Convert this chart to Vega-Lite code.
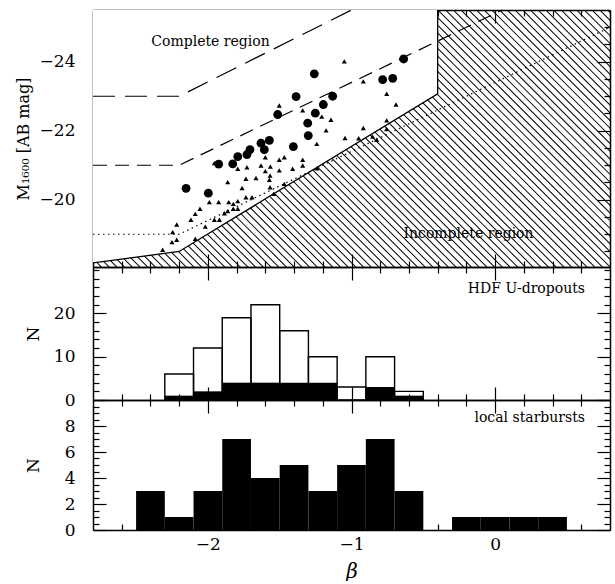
{
"$schema":"https://vega.github.io/schema/vega-lite/v6.json",
"padding":{"left":15,"top":7,"right":1,"bottom":0},
"spacing":0,
"bounds":"flush",
"config":{"view":{"stroke":null},"font":"DejaVu Serif",
 "axis":{"grid":false,"domain":true,"domainColor":"black","domainWidth":1.5,"tickColor":"black","tickWidth":1.2,"labelColor":"black","labelFont":"DejaVu Serif","labelFontSize":17,"titleFont":"DejaVu Serif","titleColor":"black","titleFontWeight":"normal","titleFontSize":17,"zindex":1,"labelFlush":false,"labelOverlap":false,"labelBound":false,"format":"d"}},
"datasets":{
 "hatch":[{"beta":-2.8,"M":-18.05,"i":0},{"beta":-0.105,"M":-29.27,"i":1}],
 "complete":[{"beta":-2.8,"M":-18.17,"i":0},{"beta":-2.2,"M":-18.5,"i":1},{"beta":-0.4,"M":-23.07,"i":2}],
 "boundary":[{"beta":-2.8,"M":-18.17,"i":0},{"beta":-2.2,"M":-18.5,"i":1},{"beta":-0.4,"M":-23.07,"i":2},{"beta":-0.4,"M":-25.5,"i":3}],
 "lines":[{"style":"long","beta":-2.8,"M":-23,"i":0},{"style":"long","beta":-2.2,"M":-23,"i":1},{"style":"long","beta":-1.0,"M":-25.5,"i":2},
  {"style":"short","beta":-2.8,"M":-21,"i":0},{"style":"short","beta":-2.2,"M":-21,"i":1},{"style":"short","beta":0.05,"M":-25.5,"i":2},
  {"style":"dot","beta":-2.8,"M":-19,"i":0},{"style":"dot","beta":-2.2,"M":-19,"i":1},{"style":"dot","beta":0.8,"M":-25.0,"i":2}],
 "circles":[{"beta":-2.152,"M":-20.33},{"beta":-1.997,"M":-20.19},{"beta":-1.925,"M":-21.03},{"beta":-1.827,"M":-21.04},{"beta":-1.792,"M":-21.25},{"beta":-1.728,"M":-21.31},{"beta":-1.707,"M":-21.45},{"beta":-1.63,"M":-21.64},{"beta":-1.607,"M":-21.45},{"beta":-1.572,"M":-21.72},{"beta":-1.514,"M":-22.47},{"beta":-1.405,"M":-21.54},{"beta":-1.386,"M":-22.99},{"beta":-1.305,"M":-22.22},{"beta":-1.301,"M":-21.86},{"beta":-1.259,"M":-23.65},{"beta":-1.252,"M":-22.51},{"beta":-1.196,"M":-22.76},{"beta":-1.131,"M":-23.0},{"beta":-0.783,"M":-23.48},{"beta":-0.713,"M":-23.52},{"beta":-0.637,"M":-24.08}],
 "tri":[{"beta":-1.503,"M":-22.73},{"beta":-1.34,"M":-22.59},{"beta":-1.207,"M":-22.41},{"beta":-1.143,"M":-22.32},{"beta":-1.177,"M":-22.01},{"beta":-1.242,"M":-21.62},{"beta":-1.045,"M":-21.79},
  {"beta":-1.792,"M":-20.9},{"beta":-1.728,"M":-20.94},{"beta":-1.63,"M":-20.99},{"beta":-1.6,"M":-21.23},{"beta":-1.565,"M":-20.96},{"beta":-1.6,"M":-20.83},{"beta":-1.503,"M":-21.16},{"beta":-1.468,"M":-21.23},{"beta":-1.34,"M":-21.16},{"beta":-1.34,"M":-20.99},{"beta":-1.41,"M":-20.9},{"beta":-1.503,"M":-20.85},
  {"beta":-1.665,"M":-20.63},{"beta":-1.567,"M":-20.7},{"beta":-1.572,"M":-20.58},{"beta":-1.735,"M":-20.61},{"beta":-1.862,"M":-20.51},{"beta":-1.762,"M":-20.34},{"beta":-1.567,"M":-20.36},{"beta":-1.468,"M":-20.46},
  {"beta":-1.99,"M":-19.93},{"beta":-1.925,"M":-19.93},{"beta":-1.855,"M":-19.93},{"beta":-1.823,"M":-19.88},{"beta":-1.792,"M":-19.96},{"beta":-1.735,"M":-20.07},{"beta":-1.693,"M":-20.07},
  {"beta":-1.792,"M":-19.74},{"beta":-1.823,"M":-19.74},{"beta":-1.862,"M":-19.67},{"beta":-1.885,"M":-19.61},{"beta":-1.92,"M":-19.42},{"beta":-1.955,"M":-19.42},{"beta":-2.055,"M":-19.74},{"beta":-2.088,"M":-19.59},{"beta":-2.118,"M":-19.42},{"beta":-2.018,"M":-19.22},{"beta":-2.217,"M":-19.28},{"beta":-2.245,"M":-19.06},{"beta":-2.25,"M":-18.77},{"beta":-2.217,"M":-18.84},{"beta":-2.088,"M":-18.87},{"beta":-2.315,"M":-18.55},
  {"beta":-1.542,"M":-20.17},{"beta":-1.955,"M":-21.06},{"beta":-1.24,"M":-20.91},
  {"beta":-1.05,"M":-24.01},{"beta":-0.918,"M":-23.43},{"beta":-0.755,"M":-23.07},{"beta":-0.69,"M":-22.76},{"beta":-0.755,"M":-22.3},{"beta":-0.918,"M":-22.08},{"beta":-0.95,"M":-21.78},{"beta":-0.853,"M":-21.83},{"beta":-0.825,"M":-21.74},{"beta":-0.755,"M":-22.05}],
 "toptext":[{"t":"Complete region","beta":-1.982,"M":-24.56},{"t":"Incomplete region","beta":-0.185,"M":-19.01}],
 "hdf":[{"lo":-2.3,"hi":-2.1,"n":6,"f":1},{"lo":-2.1,"hi":-1.9,"n":12,"f":2},{"lo":-1.9,"hi":-1.7,"n":19,"f":4},{"lo":-1.7,"hi":-1.5,"n":22,"f":4},{"lo":-1.5,"hi":-1.3,"n":16,"f":4},{"lo":-1.3,"hi":-1.1,"n":10,"f":4},{"lo":-1.1,"hi":-0.9,"n":3,"f":0},{"lo":-0.9,"hi":-0.7,"n":10,"f":3},{"lo":-0.7,"hi":-0.5,"n":2,"f":1}],
 "midtext":[{"t":"HDF U-dropouts","beta":0.626,"n":25.7}],
 "local":[{"lo":-2.5,"hi":-2.3,"n":3},{"lo":-2.3,"hi":-2.1,"n":1},{"lo":-2.1,"hi":-1.9,"n":3},{"lo":-1.9,"hi":-1.7,"n":7},{"lo":-1.7,"hi":-1.5,"n":4},{"lo":-1.5,"hi":-1.3,"n":5},{"lo":-1.3,"hi":-1.1,"n":3},{"lo":-1.1,"hi":-0.9,"n":5},{"lo":-0.9,"hi":-0.7,"n":7},{"lo":-0.7,"hi":-0.5,"n":3},{"lo":-0.3,"hi":-0.1,"n":1},{"lo":-0.1,"hi":0.1,"n":1},{"lo":0.1,"hi":0.3,"n":1},{"lo":0.3,"hi":0.5,"n":1}],
 "bottext":[{"t":"local starbursts","beta":0.626,"n":8.58}]
},
"vconcat":[
{
 "width":517,"height":257,
 "resolve":{"axis":{"x":"independent","y":"independent"}},
 "layer":[
  {"data":{"name":"hatch"},
   "mark":{"type":"line","color":"black","strokeWidth":800,"strokeDash":[1.0,4.45],"strokeCap":"butt","clip":true},
   "encoding":{
    "x":{"field":"beta","type":"quantitative","scale":{"domain":[-2.8,0.8],"nice":false,"zero":false},"axis":null},
    "y":{"field":"M","type":"quantitative","scale":{"domain":[-18.05,-25.5],"nice":false,"zero":false},"axis":null},
    "order":{"field":"i","type":"quantitative"}
   }},
  {"data":{"name":"complete"},
   "mark":{"type":"area","fill":"white","fillOpacity":1,"opacity":1,"stroke":null},
   "encoding":{
    "x":{"field":"beta","type":"quantitative",
     "axis":{"orient":"bottom","values":[-2.6,-2.4,-2.2,-2,-1.8,-1.6,-1.4,-1.2,-1,-0.8,-0.6,-0.4,-0.2,0,0.2,0.4,0.6],"labels":false,"title":null,
      "tickSize":{"condition":{"test":"abs(datum.value-round(datum.value))<0.01","value":-13},"value":-6}}},
    "y":{"field":"M","type":"quantitative","stack":null,
     "axis":{"orient":"left","values":[-25,-24.5,-24,-23.5,-23,-22.5,-22,-21.5,-21,-20.5,-20,-19.5,-19,-18.5],
      "tickSize":{"condition":{"test":"abs(datum.value/2-round(datum.value/2))<0.01","value":-13},"value":-6},
      "labelExpr":"abs(datum.value/2-round(datum.value/2))<0.01 ? datum.label : ''","labelPadding":31,
      "title":"M₁₆₀₀ [AB mag]","titlePadding":8,"titleFontSize":16}},
    "y2":{"datum":-25.5}
   }},
  {"data":{"name":"boundary"},
   "mark":{"type":"line","color":"black","strokeWidth":1.3},
   "encoding":{
    "x":{"field":"beta","type":"quantitative","axis":null},
    "y":{"field":"M","type":"quantitative","axis":null},
    "order":{"field":"i","type":"quantitative"}
   }},
  {"data":{"name":"lines"},
   "mark":{"type":"line","color":"black","strokeWidth":1.2},
   "encoding":{
    "x":{"field":"beta","type":"quantitative",
     "axis":{"orient":"top","values":[-2.6,-2.4,-2.2,-2,-1.8,-1.6,-1.4,-1.2,-1,-0.8,-0.6,-0.4,-0.2,0,0.2,0.4,0.6],"labels":false,"title":null,
      "tickSize":{"condition":{"test":"abs(datum.value-round(datum.value))<0.01","value":-13},"value":-6}}},
    "y":{"field":"M","type":"quantitative",
     "axis":{"orient":"right","values":[-25,-24.5,-24,-23.5,-23,-22.5,-22,-21.5,-21,-20.5,-20,-19.5,-19,-18.5],"labels":false,"title":null,
      "tickSize":{"condition":{"test":"abs(datum.value/2-round(datum.value/2))<0.01","value":-13},"value":-6}}},
    "detail":{"field":"style"},
    "strokeDash":{"field":"style","type":"nominal","scale":{"domain":["long","short","dot"],"range":[[22,10],[14,8],[1.5,3.5]]},"legend":null},
    "order":{"field":"i","type":"quantitative"}
   }},
  {"data":{"name":"tri"},
   "mark":{"type":"point","shape":"triangle-up","filled":true,"color":"black","opacity":1,"size":26},
   "encoding":{"x":{"field":"beta","type":"quantitative","axis":null},"y":{"field":"M","type":"quantitative","axis":null}}},
  {"data":{"name":"circles"},
   "mark":{"type":"point","shape":"circle","filled":true,"color":"black","opacity":1,"size":78},
   "encoding":{"x":{"field":"beta","type":"quantitative","axis":null},"y":{"field":"M","type":"quantitative","axis":null}}},
  {"data":{"name":"toptext"},
   "mark":{"type":"text","font":"DejaVu Serif","fontSize":14,"color":"black","align":"center","baseline":"middle"},
   "encoding":{"x":{"field":"beta","type":"quantitative","axis":null},"y":{"field":"M","type":"quantitative","axis":null},"text":{"field":"t"}}}
 ]
},
{
 "width":517,"height":133,
 "resolve":{"axis":{"x":"independent","y":"independent"}},
 "layer":[
  {"data":{"name":"hdf"},
   "mark":{"type":"rect","filled":false,"stroke":"black","strokeWidth":1.4},
   "encoding":{
    "x":{"field":"lo","type":"quantitative","scale":{"domain":[-2.8,0.8],"nice":false,"zero":false},
     "axis":{"orient":"bottom","values":[-2.6,-2.4,-2.2,-2,-1.8,-1.6,-1.4,-1.2,-1,-0.8,-0.6,-0.4,-0.2,0,0.2,0.4,0.6],"labels":false,"title":null,
      "tickSize":{"condition":{"test":"abs(datum.value-round(datum.value))<0.01","value":-13},"value":-6}}},
    "x2":{"field":"hi"},
    "y":{"field":"n","type":"quantitative","scale":{"domain":[0,30.7],"nice":false,"zero":false},
     "axis":{"orient":"left","values":[0,2,4,6,8,10,12,14,16,18,20,22,24,26,28,30],
      "tickSize":{"condition":{"test":"datum.value % 10 == 0 && datum.value < 25","value":-13},"value":-6},
      "labelExpr":"datum.value % 10 == 0 && datum.value < 25 ? datum.label : ''","labelPadding":31,"title":"N","titlePadding":11}},
    "y2":{"datum":0}
   }},
  {"data":{"name":"hdf"},
   "transform":[{"filter":"datum.f > 0"}],
   "mark":{"type":"rect","color":"black"},
   "encoding":{
    "x":{"field":"lo","type":"quantitative",
     "axis":{"orient":"top","values":[-2.6,-2.4,-2.2,-2,-1.8,-1.6,-1.4,-1.2,-1,-0.8,-0.6,-0.4,-0.2,0,0.2,0.4,0.6],"labels":false,"title":null,
      "tickSize":{"condition":{"test":"abs(datum.value-round(datum.value))<0.01","value":-13},"value":-6}}},
    "x2":{"field":"hi"},
    "y":{"field":"f","type":"quantitative",
     "axis":{"orient":"right","values":[0,2,4,6,8,10,12,14,16,18,20,22,24,26,28,30],"labels":false,"title":null,
      "tickSize":{"condition":{"test":"datum.value % 10 == 0 && datum.value < 25","value":-13},"value":-6}}},
    "y2":{"datum":0}
   }},
  {"data":{"name":"midtext"},
   "mark":{"type":"text","font":"DejaVu Serif","fontSize":14,"color":"black","align":"right","baseline":"middle"},
   "encoding":{"x":{"field":"beta","type":"quantitative","axis":null},"y":{"field":"n","type":"quantitative","axis":null},"text":{"field":"t"}}}
 ]
},
{
 "width":517,"height":130,
 "resolve":{"axis":{"x":"independent","y":"independent"}},
 "layer":[
  {"data":{"name":"local"},
   "mark":{"type":"rect","color":"black"},
   "encoding":{
    "x":{"field":"lo","type":"quantitative","scale":{"domain":[-2.8,0.8],"nice":false,"zero":false},
     "axis":{"orient":"bottom","values":[-2.6,-2.4,-2.2,-2,-1.8,-1.6,-1.4,-1.2,-1,-0.8,-0.6,-0.4,-0.2,0,0.2,0.4,0.6],
      "tickSize":{"condition":{"test":"abs(datum.value-round(datum.value))<0.01","value":-13},"value":-6},
      "labelExpr":"abs(datum.value-round(datum.value))<0.01 ? datum.label : ''","labelPadding":19,
      "title":"β","titleFontStyle":"italic","titleFontSize":20,"titlePadding":2}},
    "x2":{"field":"hi"},
    "y":{"field":"n","type":"quantitative","scale":{"domain":[0,10],"nice":false,"zero":false},
     "axis":{"orient":"left","values":[0,0.5,1,1.5,2,2.5,3,3.5,4,4.5,5,5.5,6,6.5,7,7.5,8,8.5,9,9.5],
      "tickSize":{"condition":{"test":"datum.value % 2 == 0","value":-13},"value":-6},
      "labelExpr":"datum.value % 2 == 0 ? datum.label : ''","labelPadding":31,"title":"N","titlePadding":22}},
    "y2":{"datum":0}
   }},
  {"data":{"name":"bottext"},
   "mark":{"type":"text","font":"DejaVu Serif","fontSize":14,"color":"black","align":"right","baseline":"middle"},
   "encoding":{
    "x":{"field":"beta","type":"quantitative",
     "axis":{"orient":"top","values":[-2.6,-2.4,-2.2,-2,-1.8,-1.6,-1.4,-1.2,-1,-0.8,-0.6,-0.4,-0.2,0,0.2,0.4,0.6],"labels":false,"title":null,
      "tickSize":{"condition":{"test":"abs(datum.value-round(datum.value))<0.01","value":-13},"value":-6}}},
    "y":{"field":"n","type":"quantitative",
     "axis":{"orient":"right","values":[0,0.5,1,1.5,2,2.5,3,3.5,4,4.5,5,5.5,6,6.5,7,7.5,8,8.5,9,9.5],"labels":false,"title":null,
      "tickSize":{"condition":{"test":"datum.value % 2 == 0","value":-13},"value":-6}}},
    "text":{"field":"t"}}}
 ]
}
]
}
